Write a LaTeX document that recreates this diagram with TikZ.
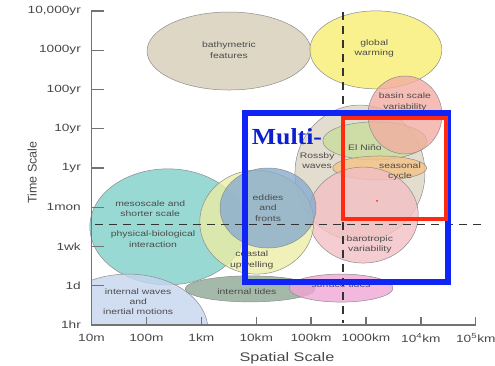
\documentclass[tikz,border=0pt]{standalone}
\usepackage{fontspec}
\setmainfont{Liberation Sans}
\newfontfamily\slidefont{Liberation Serif}
\usetikzlibrary{positioning}

\definecolor{bathycol}{HTML}{D6CDB6}
\definecolor{warmcol}{HTML}{F7EC72}
\definecolor{basincol}{HTML}{F2ADA2}
\definecolor{rossbycol}{HTML}{DCD5C4}
\definecolor{ninocol}{HTML}{C9DE9C}
\definecolor{seasoncol}{HTML}{F5C285}
\definecolor{barocol}{HTML}{F2C0C4}
\definecolor{mesocol}{HTML}{80CFC8}
\definecolor{coastcol}{HTML}{ECEDA6}
\definecolor{eddycol}{HTML}{88ABD0}
\definecolor{iwavecol}{HTML}{C6D5EE}
\definecolor{itidecol}{HTML}{8DA893}
\definecolor{stidecol}{HTML}{F0A6D6}
\definecolor{multiblue}{HTML}{1024F5}
\definecolor{zoomred}{HTML}{FF2A12}

\begin{document}
\begin{tikzpicture}[
  x=54.9pt, y=39.25pt,
  blob/.style={draw=black!45, line width=0.5pt, fill opacity=0.8},
  tag/.style={align=center, xscale=1.3, font=\fontsize{8}{10.3}\selectfont, text=black!70, inner sep=0pt},
  ylab/.style={anchor=east, xscale=1.3, inner sep=0pt, font=\fontsize{10.5}{12}\selectfont, text=black!72},
  xlab/.style={xscale=1.3, inner sep=0pt, font=\fontsize{10.5}{12}\selectfont, text=black!72},
  axis/.style={line width=1.3pt, black!55},
  guide/.style={line width=1.2pt, black!80, dash pattern=on 8pt off 6pt}
]
\useasboundingbox (-1.667,-1.045) rectangle (7.35,8.28);

% Process ellipses (back to front)
\draw[blob,fill=bathycol] (2.505,6.98) ellipse [x radius=82pt, y radius=39pt];
\draw[blob,fill=warmcol] (5.18,7.01) ellipse [x radius=66pt, y radius=39pt];
\draw[blob,fill=rossbycol] (4.89,3.87) ellipse [x radius=65pt, y radius=68pt];
\draw[blob,fill=ninocol] (5.16,4.69) ellipse [x radius=52pt, y radius=19pt];
\draw[blob,fill=basincol] (5.71,5.35) ellipse [x radius=37pt, y radius=39pt];
\draw[blob,fill=seasoncol] (5.25,4.0) ellipse [x radius=47pt, y radius=12pt];
\draw[blob,fill=barocol] (4.95,2.80) ellipse [x radius=55pt, y radius=48pt];
\draw[blob,fill=mesocol] (1.39,2.50) ellipse [x radius=78pt, y radius=58pt];
\draw[blob,fill=coastcol] (3.01,2.62) ellipse [x radius=57pt, y radius=52pt];
\draw[blob,fill=eddycol] (3.215,2.98) ellipse [x radius=48pt, y radius=40pt];
\begin{scope}
  \clip (0,0) rectangle (4,2);
  \draw[blob,fill=iwavecol] (0.665,-0.13) ellipse [x radius=80pt, y radius=56pt];
\end{scope}
\draw[blob,fill=itidecol] (2.89,0.92) ellipse [x radius=65pt, y radius=13pt];
\draw[blob,fill=stidecol] (4.545,0.94) ellipse [x radius=52pt, y radius=14pt];

% Ellipse labels
\node[tag] (bathy) at (2.505,7.0) {bathymetric\\features};
\node[tag] (warm) at (5.15,7.05) {global\\warming};
\node[tag] (basin) at (5.71,5.68) {basin scale\\variability};
\node[tag] (nino) at (4.98,4.51) {El Niño};
\node[tag] (season) at (5.62,3.92) {seasonal\\cycle};
\node[tag] (rossby) at (4.11,4.18) {Rossby\\waves};
\node[tag] (eddy) at (3.215,2.98) {eddies\\and\\fronts};
\node[tag] (coast) at (2.92,1.66) {coastal\\upwelling};
\node[tag] (baro) at (5.07,2.06) {barotropic\\variability};
\node[tag] (meso) at (1.07,2.96) {mesoscale and\\shorter scale};
\node[tag] (phybio) at (1.12,2.19) {physical-biological\\interaction};
\node[tag] (iwave) at (0.85,0.59) {internal waves\\and\\inertial motions};
\node[tag] (itide) at (2.83,0.84) {internal tides};
\node[tag] (stide) at (4.545,1.04) {surface tides};

% Axes with ticks
\draw[axis] (0.22,8) -- (0,8) -- (0,0) -- (7,0) -- (7,0.2);
\draw[axis] (0,1) -- (0.22,1) (0,2) -- (0.22,2) (0,3) -- (0.22,3) (0,4) -- (0.22,4)
  (0,5) -- (0.22,5) (0,6) -- (0.22,6) (0,7) -- (0.22,7);
\draw[axis] (1,0) -- (1,0.2) (2,0) -- (2,0.2) (3,0) -- (3,0.2) (4,0) -- (4,0.2)
  (5,0) -- (5,0.2) (6,0) -- (6,0.2);

% Time axis labels
\node[ylab] (t1hr) at (-0.19,0) {1hr};
\node[ylab] (t1d) at (-0.19,1) {1d};
\node[ylab] (t1wk) at (-0.19,2) {1wk};
\node[ylab] (t1mon) at (-0.19,3) {1mon};
\node[ylab] (t1yr) at (-0.19,4) {1yr};
\node[ylab] (t10yr) at (-0.19,5) {10yr};
\node[ylab] (t100yr) at (-0.19,6) {100yr};
\node[ylab] (t1000yr) at (-0.19,7) {1000yr};
\node[ylab] (t10000yr) at (-0.19,8) {10,000yr};
\node[rotate=90,font=\fontsize{12.5}{14}\selectfont,text=black!72] (ttitle) at (-1.08,3.88) {Time Scale};

% Space axis labels
\node[xlab] (s10m) at (0,-0.33) {10m};
\node[xlab] (s100m) at (1,-0.33) {100m};
\node[xlab] (s1km) at (2,-0.33) {1km};
\node[xlab] (s10km) at (3,-0.33) {10km};
\node[xlab] (s100km) at (4,-0.33) {100km};
\node[xlab] (s1000km) at (5,-0.33) {1000km};
\node[xlab] (s1e4km) at (6,-0.33) {10\textsuperscript{4}km};
\node[xlab] (s1e5km) at (7,-0.33) {10\textsuperscript{5}km};
\node[xscale=1.3,font=\fontsize{12.5}{15}\selectfont,text=black!72] (stitle) at (3.56,-0.84) {Spatial Scale};

% Dashed guides
\draw[guide] (4.58,7.97) -- (4.58,0.05);
\draw[guide] (0.06,2.57) -- (7.17,2.57);

% Highlight boxes
\draw[multiblue,line width=6.5pt] (2.796,5.40) rectangle (6.494,1.096);
\draw[zoomred,line width=4.5pt] (4.58,5.27) rectangle (6.457,2.70);
\fill[zoomred] (5.20,3.16) circle [radius=1pt];
\node[xscale=1.12,font=\slidefont\bfseries\fontsize{23}{26}\selectfont,text=multiblue!85!black,inner sep=0pt] (multi) at (3.56,4.80) {Multi-};

\end{tikzpicture}
\end{document}
